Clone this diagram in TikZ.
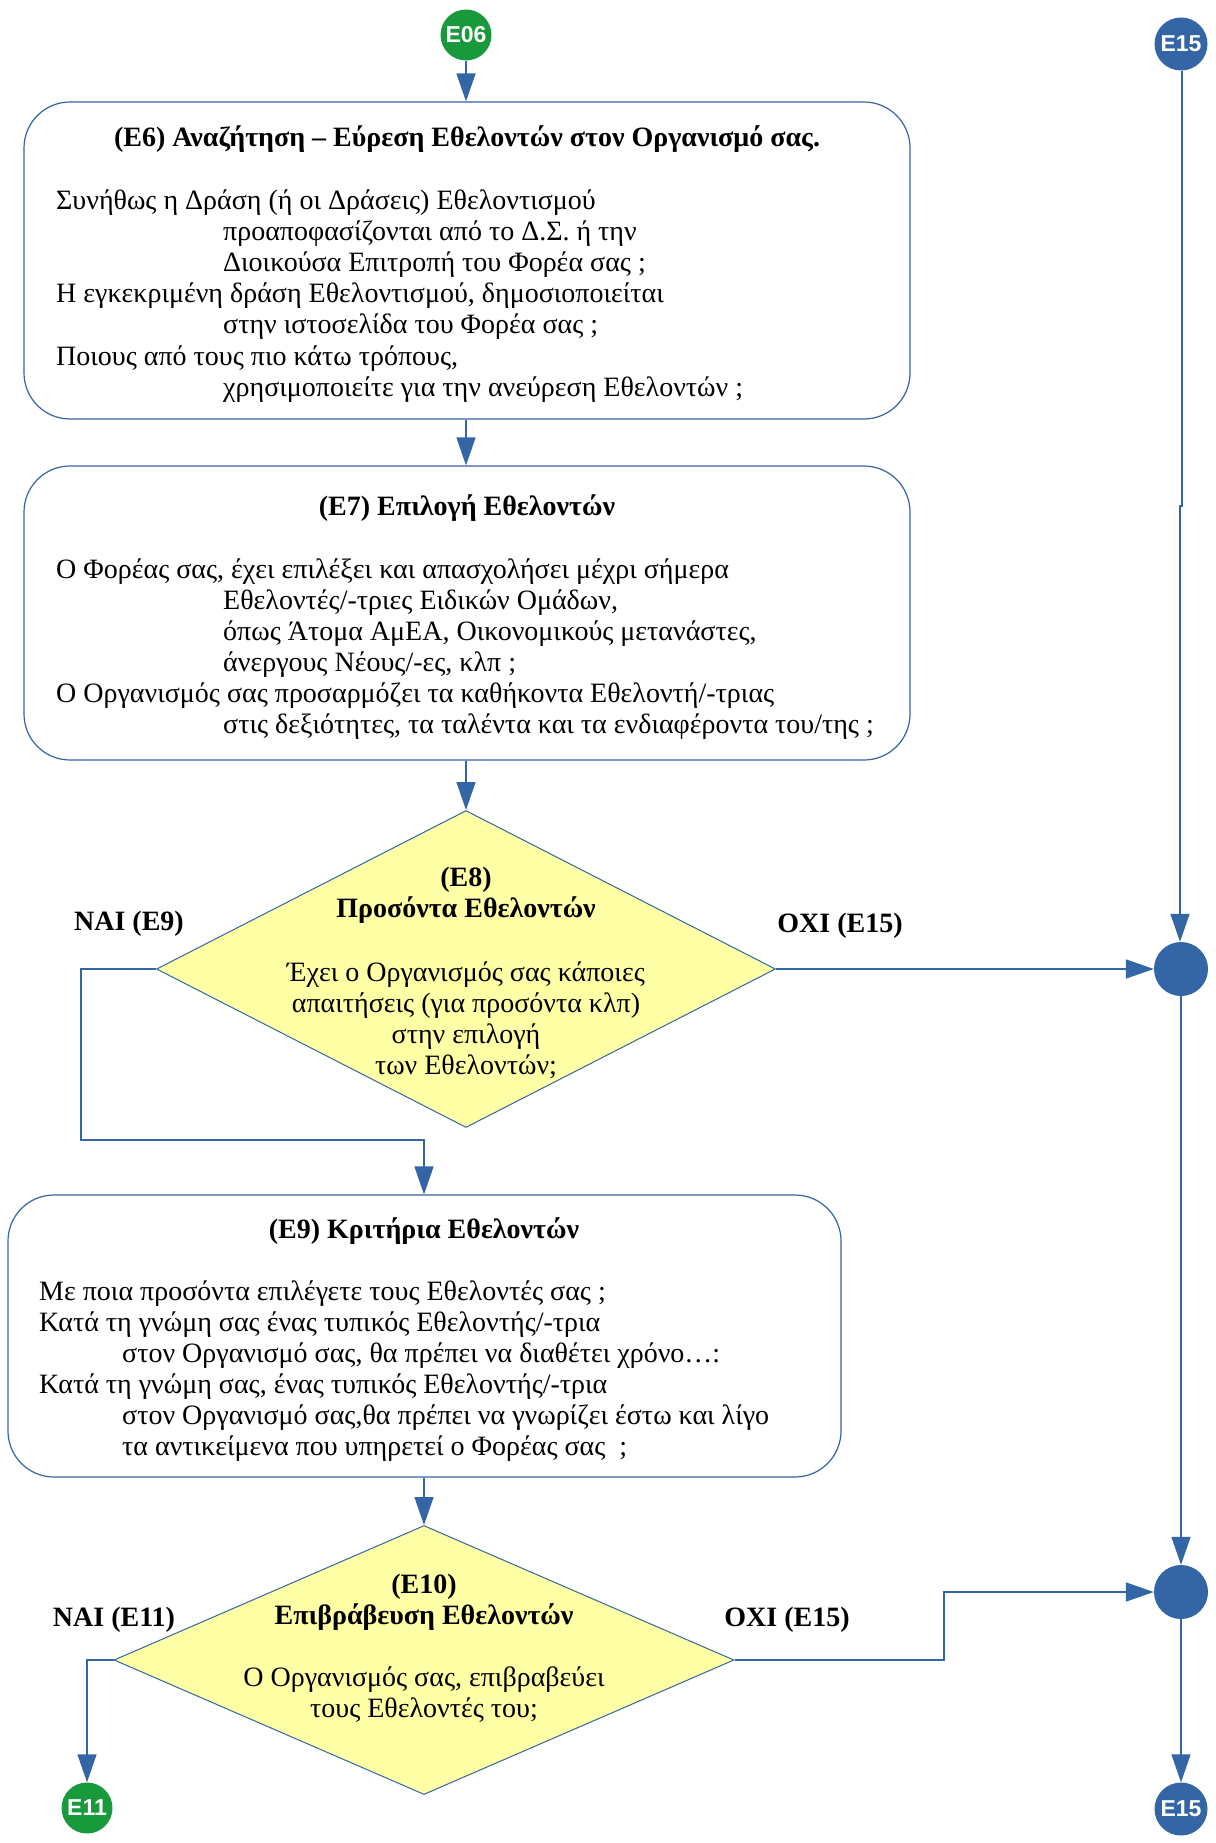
\documentclass[tikz,border=0pt]{standalone}
\usepackage{fontspec}
\setmainfont{Liberation Serif}
\newfontfamily\circfont{Liberation Sans}
\usetikzlibrary{arrows.meta,shapes.geometric}
\definecolor{lblue}{HTML}{3465A4}
\definecolor{cgreen}{HTML}{17993C}
\definecolor{dyellow}{HTML}{FFFFA6}
\tikzset{
  boxs/.style={draw=lblue,line width=1.2pt,rounded corners=46pt,inner sep=0pt,fill=white},
  dia/.style={diamond,draw=lblue,line width=1pt,fill=dyellow,inner sep=0pt},
  circb/.style={circle,fill=lblue,inner sep=0pt,minimum size=53pt,text=white,font=\circfont\bfseries\fontsize{23}{26}\selectfont},
  circg/.style={circle,fill=cgreen,inner sep=0pt,minimum size=51pt,text=white,font=\circfont\bfseries\fontsize{23}{26}\selectfont},
  merge/.style={circle,fill=lblue,inner sep=0pt,minimum size=54pt},
  arr/.style={draw=lblue,line width=1.5pt,-{Triangle[length=28pt,width=19pt]}},
  txt/.style={font=\fontsize{28}{31}\selectfont,inner sep=0pt,anchor=base west},
  ctxt/.style={font=\fontsize{28}{31}\selectfont,inner sep=0pt,anchor=base},
  ttl/.style={font=\bfseries\fontsize{28}{31}\selectfont,inner sep=0pt,anchor=base},
  lbl/.style={font=\bfseries\fontsize{28}{31}\selectfont,inner sep=0pt},
}
\begin{document}
\begin{tikzpicture}[x=1pt,y=-1pt]
\useasboundingbox[fill=white] (0,0) rectangle (1215,1843);

% circles
\node[circg] (e06) at (466,35) {E06};
\node[circb] (e15t) at (1181,44) {E15};
\node[merge] (m1) at (1181,969) {};
\node[merge] (m2) at (1181,1592) {};
\node[circg] (e11) at (87,1808) {E11};
\node[circb] (e15b) at (1181,1809) {E15};

% boxes
\node[boxs,minimum width=886pt,minimum height=317pt] (b6) at (467,260.5) {};
\node[boxs,minimum width=886pt,minimum height=294pt] (b7) at (467,613) {};
\node[boxs,minimum width=833pt,minimum height=282pt] (b9) at (424.5,1336) {};

% diamonds
\node[dia,minimum width=619pt,minimum height=317pt] (d8) at (466,969) {};
\node[dia,minimum width=620pt,minimum height=269pt] (d10) at (424,1660) {};

% E6 text
\node[ttl] (t6) at (467,147) {(Ε6) Αναζήτηση – Εύρεση Εθελοντών στον Οργανισμό σας.};
\node[txt] (t6a) at (56,210) {Συνήθως η Δράση (ή οι Δράσεις) Εθελοντισμού};
\node[txt] (t6b) at (223,241) {προαποφασίζονται από το Δ.Σ. ή την};
\node[txt] (t6c) at (223,272) {Διοικούσα Επιτροπή του Φορέα σας ;};
\node[txt] (t6d) at (56,303) {Η εγκεκριμένη δράση Εθελοντισμού, δημοσιοποιείται};
\node[txt] (t6e) at (223,334) {στην ιστοσελίδα του Φορέα σας ;};
\node[txt] (t6f) at (56,365) {Ποιους από τους πιο κάτω τρόπους,};
\node[txt] (t6g) at (223,396) {χρησιμοποιείτε για την ανεύρεση Εθελοντών ;};

% E7 text
\node[ttl] (t7) at (467,515) {(Ε7) Επιλογή Εθελοντών};
\node[txt] (t7a) at (56,578) {Ο Φορέας σας, έχει επιλέξει και απασχολήσει μέχρι σήμερα};
\node[txt] (t7b) at (223,609) {Εθελοντές/-τριες Ειδικών Ομάδων,};
\node[txt] (t7c) at (223,640) {όπως Άτομα ΑμΕΑ, Οικονομικούς μετανάστες,};
\node[txt] (t7d) at (223,671) {άνεργους Νέους/-ες, κλπ ;};
\node[txt] (t7e) at (56,702) {Ο Οργανισμός σας προσαρμόζει τα καθήκοντα Εθελοντή/-τριας};
\node[txt] (t7f) at (223,733) {στις δεξιότητες, τα ταλέντα και τα ενδιαφέροντα του/της ;};

% E8 text
\node[ttl] (t8) at (466,886) {(Ε8)};
\node[ttl] (t8a) at (466,917) {Προσόντα Εθελοντών};
\node[ctxt] (t8b) at (466,981) {Έχει ο Οργανισμός σας κάποιες};
\node[ctxt] (t8c) at (466,1012) {απαιτήσεις (για προσόντα κλπ)};
\node[ctxt] (t8d) at (466,1043) {στην επιλογή};
\node[ctxt] (t8e) at (466,1074) {των Εθελοντών;};

% E9 text
\node[ttl] (t9) at (424,1238) {(Ε9) Κριτήρια Εθελοντών};
\node[txt] (t9a) at (39,1300) {Με ποια προσόντα επιλέγετε τους Εθελοντές σας ;};
\node[txt] (t9b) at (39,1331) {Κατά τη γνώμη σας ένας τυπικός Εθελοντής/-τρια};
\node[txt] (t9c) at (122,1362) {στον Οργανισμό σας, θα πρέπει να διαθέτει χρόνο…:};
\node[txt] (t9d) at (39,1393) {Κατά τη γνώμη σας, ένας τυπικός Εθελοντής/-τρια};
\node[txt] (t9e) at (122,1424) {στον Οργανισμό σας,θα πρέπει να γνωρίζει έστω και λίγο};
\node[txt] (t9f) at (122,1455) {τα αντικείμενα που υπηρετεί ο Φορέας σας\ \ ;};

% E10 text
\node[ttl] (t10) at (424,1593) {(Ε10)};
\node[ttl] (t10a) at (424,1624) {Επιβράβευση Εθελοντών};
\node[ctxt] (t10b) at (424,1686) {Ο Οργανισμός σας, επιβραβεύει};
\node[ctxt] (t10c) at (424,1717) {τους Εθελοντές του;};

% labels
\node[lbl] (l1) at (129,924) {ΝΑΙ (Ε9)};
\node[lbl] (l2) at (840,926) {ΟΧΙ (Ε15)};
\node[lbl] (l3) at (114,1620) {ΝΑΙ (Ε11)};
\node[lbl] (l4) at (787,1620) {ΟΧΙ (Ε15)};

% junction coordinates
\coordinate (k1) at (81,1140);
\coordinate (k2) at (944,1660);
\coordinate (j1) at (1182,506);
\coordinate (j2) at (1180,506);

% connectors
\draw[arr] (e06) -- (e06 |- b6.north);
\draw[arr] (e06 |- b6.south) -- (e06 |- b7.north);
\draw[arr] (e06 |- b7.south) -- (d8.north);
\draw[arr] (d8.west) -| (k1) -| (b9.north -| d10.north);
\draw[arr] (d8.east) -- (m1.west);
\draw[arr] (e15t.south -| j1) -- (j1) -- (j2) -- (j2 |- m1.north);
\draw[arr] (m1) -- (m2.north);
\draw[arr] (b9.south -| d10.north) -- (d10.north);
\draw[arr] (d10.west) -| (e11.north);
\draw[arr] (d10.east) -- (k2) |- (m2.west);
\draw[arr] (m2) -- (e15b.north);
\end{tikzpicture}
\end{document}
